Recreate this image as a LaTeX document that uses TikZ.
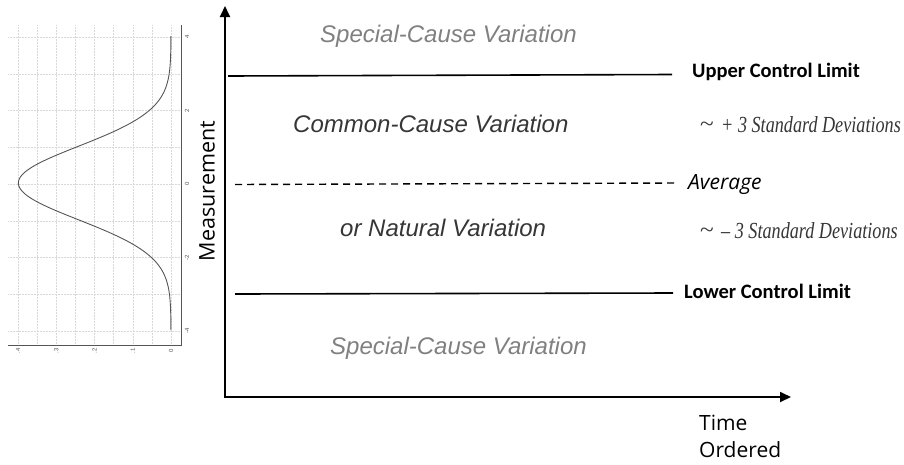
\documentclass[tikz,border=0pt]{standalone}
\usepackage{fontspec}
\setmainfont{Liberation Sans}
\newfontfamily\calfont{Carlito}
\newfontfamily\osfont{Open Sans}
\newfontfamily\tmfont{Liberation Serif}
\usetikzlibrary{arrows.meta}
\definecolor{scgray}{HTML}{808080}
\definecolor{ccgray}{HTML}{363636}
\definecolor{gridgray}{HTML}{D9D9D9}
\definecolor{curvegray}{HTML}{555555}
\begin{document}
\begin{tikzpicture}[x=1pt,y=-1pt,
  axisline/.style={line width=1.8pt,{Triangle[length=11pt,width=10pt]}-{Triangle[length=11pt,width=10pt]}},
  limitline/.style={line width=1.6pt},
  avgline/.style={line width=1.4pt,dash pattern=on 7pt off 5pt},
  zone/.style={anchor=base west,inner sep=0pt,font=\itshape\fontsize{24}{28}\selectfont},
  limtext/.style={anchor=base west,inner sep=0pt,font=\calfont\bfseries\fontsize{20.5}{24}\selectfont},
  sdtext/.style={anchor=base west,inner sep=0pt,font=\tmfont\fontsize{23}{26}\selectfont,text=ccgray},
  ostext/.style={anchor=base west,inner sep=0pt,font=\osfont\fontsize{21}{24}\selectfont},
  gridline/.style={gridgray,line width=0.5pt,densely dotted},
  plotaxis/.style={curvegray,line width=0.8pt},
  ticklab/.style={inner sep=0pt,rotate=90,font=\fontsize{6}{7}\selectfont,text=curvegray},
]
\useasboundingbox (0,0) rectangle (904,464);

% ---- rotated bell curve ----
\foreach \k in {0,...,8} {
  \draw[gridline] (8,{37+36.75*\k}) -- (181,{37+36.75*\k});
  \draw[gridline] ({171-19.125*\k},25) -- ({171-19.125*\k},345);
}
\coordinate (pa-bl) at (8,345);
\coordinate (pa-br) at (181,345);
\coordinate (pa-tr) at (181,25);
\draw[plotaxis] (pa-bl) -- (pa-br) -- (pa-tr);
\draw[curvegray,line width=0.9pt] plot[domain=-4:4,samples=160,smooth]
  ({171-382.5*0.39894*exp(-0.5*(\x)*(\x))},{183-36.75*\x});
\node[ticklab] (ty1) at (187,37) {4};
\node[ticklab] (ty2) at (187,110.5) {2};
\node[ticklab] (ty3) at (187,184) {0};
\node[ticklab] (ty4) at (187,257.5) {-2};
\node[ticklab] (ty5) at (187,331) {-4};
\node[ticklab] (tx1) at (18,351) {.4};
\node[ticklab] (tx2) at (56.3,351) {.3};
\node[ticklab] (tx3) at (94.5,351) {.2};
\node[ticklab] (tx4) at (132.8,351) {.1};
\node[ticklab] (tx5) at (171,351) {0};

% ---- axes ----
\coordinate (ytop) at (225,6);
\coordinate (orig) at (225,397);
\coordinate (xend) at (791,397);
\draw[axisline] (ytop) -- (orig) -- (xend);
\node[rotate=90,inner sep=0pt,font=\osfont\fontsize{21.5}{24}\selectfont] (meas) at (207,191) {Measurement};
\node[ostext] (time) at (699,430) {Time};
\node[ostext] (ord) at (699,457) {Ordered};

% ---- limit lines ----
\coordinate (ucl-l) at (228,76);
\coordinate (ucl-r) at (672,74.5);
\draw[limitline] (ucl-l) -- (ucl-r);
\coordinate (avg-l) at (235,184.5);
\coordinate (avg-r) at (677,183);
\draw[avgline] (avg-l) -- (avg-r);
\coordinate (lcl-l) at (235,294);
\coordinate (lcl-r) at (673,293);
\draw[limitline] (lcl-l) -- (lcl-r);

% ---- zone texts ----
\node[zone,text=scgray] (sctop) at (320,42) {Special-Cause Variation};
\node[zone,text=ccgray] (cc) at (293,132) {Common-Cause Variation};
\node[zone,text=ccgray] (nat) at (340,236) {or Natural Variation};
\node[zone,text=scgray] (scbot) at (330,354) {Special-Cause Variation};

% ---- right labels ----
\node[limtext] (ucl) at (692,77) {Upper Control Limit};
\node[limtext] (lcl) at (684,298) {Lower Control Limit};
\node[ostext,font=\osfont\itshape\fontsize{21}{24}\selectfont] (avg) at (688,189) {Average};
\node[sdtext] (tilde1) at (700,131) {\scalebox{1.1}[1]{\textasciitilde}};
\node[sdtext] (sdp) at (721,132) {\scalebox{0.79}[1]{\itshape + 3 Standard Deviations}};
\node[sdtext] (tilde2) at (700,237) {\scalebox{1.1}[1]{\textasciitilde}};
\node[sdtext] (sdm) at (721,238) {\scalebox{0.79}[1]{\itshape – 3 Standard Deviations}};
\end{tikzpicture}
\end{document}
